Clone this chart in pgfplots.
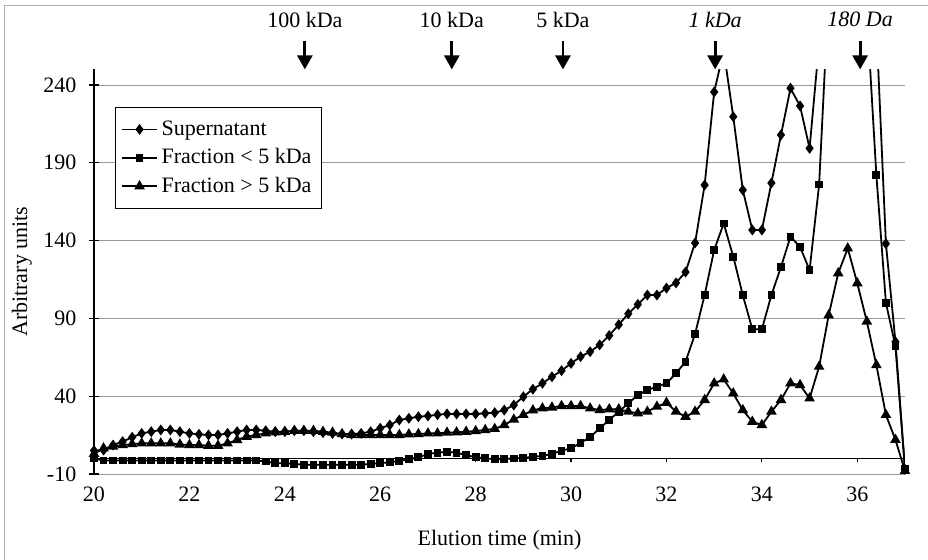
\documentclass[border=0pt]{standalone}
\usepackage{fontspec}
\setmainfont{Liberation Serif}
\usepackage{pgfplots}
\pgfplotsset{compat=1.18}
\usepackage{pgfplotstable}
\usetikzlibrary{arrows.meta}

% Supernatant
\pgfplotstableread{
x y
20.0 5
20.2 5.4
20.4 8.6
20.6 10.8
20.8 13.6
21.0 16.1
21.2 17.2
21.4 18.3
21.6 18.3
21.8 17.2
22.0 16.1
22.2 15.5
22.4 15.1
22.6 15.1
22.8 16.1
23.0 17.2
23.2 18.3
23.4 18.3
23.6 17.8
23.8 17.2
24.0 17.2
24.2 17.8
24.4 17.8
24.6 17.2
24.8 16.6
25.0 16.1
25.2 15.7
25.4 15.7
25.6 16.1
25.8 17.2
26.0 19.4
26.2 21.5
26.4 24.7
26.6 25.8
26.8 26.8
27.0 27.3
27.2 28.1
27.4 28.6
27.6 28.6
27.8 28.6
28.0 28.6
28.2 29.0
28.4 29.4
28.6 31.1
28.8 34.3
29.0 39.7
29.2 44.5
29.4 48.3
29.6 52.5
29.8 56.4
30.0 61.1
30.2 65.4
30.4 68.6
30.6 73
30.8 79
31.0 86
31.2 93
31.4 99
31.6 105
31.8 105
32.0 109.5
32.2 112.8
32.4 119.8
32.6 138.5
32.8 175.7
33.0 235.5
33.2 262
33.4 219.6
33.6 172.5
33.8 146.8
34.0 146.8
34.2 177
34.4 207.9
34.6 237.9
34.8 226.5
35.0 199.3
35.2 267
35.4 420
35.6 560
35.8 600
36.0 560
36.2 450
36.4 278
36.6 138
36.8 75
37.0 -7
}\supernatant

% Fraction < 5 kDa
\pgfplotstableread{
x y
20.0 0
20.2 -1.3
20.4 -1.3
20.6 -1.3
20.8 -1.3
21.0 -1.3
21.2 -1.3
21.4 -1.3
21.6 -1.3
21.8 -1.3
22.0 -1.3
22.2 -1.3
22.4 -1.3
22.6 -1.3
22.8 -1.3
23.0 -1.3
23.2 -1.3
23.4 -1.3
23.6 -2
23.8 -3
24.0 -3.1
24.2 -3.5
24.4 -4
24.6 -4
24.8 -4
25.0 -4
25.2 -4
25.4 -4
25.6 -4
25.8 -3.5
26.0 -3
26.2 -2.5
26.4 -1.6
26.6 -0.5
26.8 0.7
27.0 2.9
27.2 3.7
27.4 4.3
27.6 3.7
27.8 2.2
28.0 0.7
28.2 0.1
28.4 -0.5
28.6 -0.3
28.8 0
29.0 0.3
29.2 1.1
29.4 1.6
29.6 2.9
29.8 5.0
30.0 6.5
30.2 10.1
30.4 13.6
30.6 19.4
30.8 24.7
31.0 30.1
31.2 35.4
31.4 40.8
31.6 44
31.8 46.1
32.0 48.3
32.2 54.7
32.4 62.2
32.6 80
32.8 105
33.0 134
33.2 151
33.4 129.7
33.6 105
33.8 83
34.0 83
34.2 105
34.4 123
34.6 142.5
34.8 136
35.0 121
35.2 176
35.4 300
35.6 450
35.8 520
36.0 450
36.2 287
36.4 182
36.6 100
36.8 72
37.0 -7
}\fractionlow

% Fraction > 5 kDa
\pgfplotstableread{
x y
20.0 3
20.2 6.5
20.4 7.6
20.6 8.6
20.8 9.2
21.0 9.7
21.2 9.7
21.4 9.7
21.6 9.7
21.8 9.0
22.0 8.6
22.2 8.6
22.4 8.2
22.6 8.2
22.8 9.7
23.0 11.9
23.2 14
23.4 15.1
23.6 16.1
23.8 16.8
24.0 17.2
24.2 17.8
24.4 17.8
24.6 17.8
24.8 17.2
25.0 16.6
25.2 15.7
25.4 15.1
25.6 15.1
25.8 15.1
26.0 15.1
26.2 15.1
26.4 15.1
26.6 15.5
26.8 15.7
27.0 16.1
27.2 16.1
27.4 16.6
27.6 16.8
27.8 17.2
28.0 17.6
28.2 18.3
28.4 19
28.6 21.5
28.8 25
29.0 28
29.2 31
29.4 32.2
29.6 32.8
29.8 33.7
30.0 33.7
30.2 33.7
30.4 32.2
30.6 31.1
30.8 31.6
31.0 31.6
31.2 30.1
31.4 29
31.6 30.1
31.8 33.3
32.0 35.8
32.2 30.1
32.4 26.8
32.6 30.1
32.8 37.6
33.0 48.3
33.2 50.8
33.4 41.8
33.6 31.1
33.8 23.6
34.0 21.5
34.2 30.1
34.4 37.6
34.6 48.3
34.8 47.2
35.0 38.6
35.2 59
35.4 92
35.6 119
35.8 135
36.0 112.6
36.2 88
36.4 60
36.6 28
36.8 12
37.0 -8
}\fractionhigh

\begin{document}
\fontsize{11}{13}\selectfont
\begin{tikzpicture}
\begin{axis}[
  at={(0,0)}, anchor=south west,
  scale only axis, width=405.5pt, height=202.3pt,
  xmin=20, xmax=37, ymin=-10, ymax=250,
  xtick={20,22,...,36}, ytick={-10,40,...,240},
  ymajorgrids, grid style={gray!80, line width=0.4pt},
  axis x line*=bottom, axis y line*=left,
  x axis line style={draw=none},
  y axis line style={black, line width=0.6pt},
  xtick style={draw=none},
  ytick style={black, line width=0.6pt},
  tick align=center, major tick length=5pt,
  /pgf/number format/assume math mode=true,
  yticklabel style={xshift=-2.5pt},
  xlabel={Elution time (min)}, ylabel={Arbitrary units},
  xlabel style={at={(axis description cs:0.5,-0.163)}, anchor=center},
  ylabel style={at={(axis description cs:-0.0888,0.5)}, anchor=center},
  clip mode=individual,
  legend style={at={(rel axis cs:0.026,0.907)}, anchor=north west,
    draw=black, line width=0.5pt, row sep=1pt, inner xsep=3pt, inner ysep=4.5pt},
  legend cell align=left,
]
\addplot[black, line width=0.9pt, mark=diamond*, mark size=2pt] table {\supernatant};
\addlegendentry{Supernatant}
\addplot[black, line width=0.9pt, mark=square*, mark size=1.5pt] table {\fractionlow};
\addlegendentry{Fraction < 5 kDa}
\addplot[black, line width=0.9pt, mark=triangle*, mark size=2.2pt] table {\fractionhigh};
\addlegendentry{Fraction > 5 kDa}

% horizontal axis crossing at zero, ticks hanging below it
\draw[black, line width=0.6pt] (axis cs:20,0) -- (axis cs:37,0);
\draw[black, line width=0.6pt]
  (axis cs:20,0) -- (axis cs:20,-2.2) (axis cs:22,0) -- (axis cs:22,-2.2)
  (axis cs:24,0) -- (axis cs:24,-2.2) (axis cs:26,0) -- (axis cs:26,-2.2)
  (axis cs:28,0) -- (axis cs:28,-2.2) (axis cs:30,0) -- (axis cs:30,-2.2)
  (axis cs:32,0) -- (axis cs:32,-2.2) (axis cs:34,0) -- (axis cs:34,-2.2)
  (axis cs:36,0) -- (axis cs:36,-2.2);

% molecular weight markers
\node at (axis cs:24.42,282) {100 kDa};
\node at (axis cs:27.5,282) {10 kDa};
\node at (axis cs:29.83,282) {5 kDa};
\node at (axis cs:33.02,282) {\itshape 1 kDa};
\node at (axis cs:36.06,282) {\itshape 180 Da};
\draw[line width=1.4pt, -{Triangle[width=7.5pt,length=7pt]}] (axis cs:24.42,268) -- (axis cs:24.42,250);
\draw[line width=1.4pt, -{Triangle[width=7.5pt,length=7pt]}] (axis cs:27.5,268) -- (axis cs:27.5,250);
\draw[line width=1.4pt, -{Triangle[width=7.5pt,length=7pt]}] (axis cs:29.83,268) -- (axis cs:29.83,250);
\draw[line width=1.4pt, -{Triangle[width=7.5pt,length=7pt]}] (axis cs:33.02,268) -- (axis cs:33.02,250);
\draw[line width=1.4pt, -{Triangle[width=7.5pt,length=7pt]}] (axis cs:36.06,268) -- (axis cs:36.06,250);
\end{axis}
\draw[gray!60] (-45pt,-60pt) -- (-45pt,234.5pt) -- (430pt,234.5pt);
\pgfresetboundingbox
\useasboundingbox (-47pt,-42.5pt) rectangle (417pt,237pt);
\end{tikzpicture}
\end{document}
